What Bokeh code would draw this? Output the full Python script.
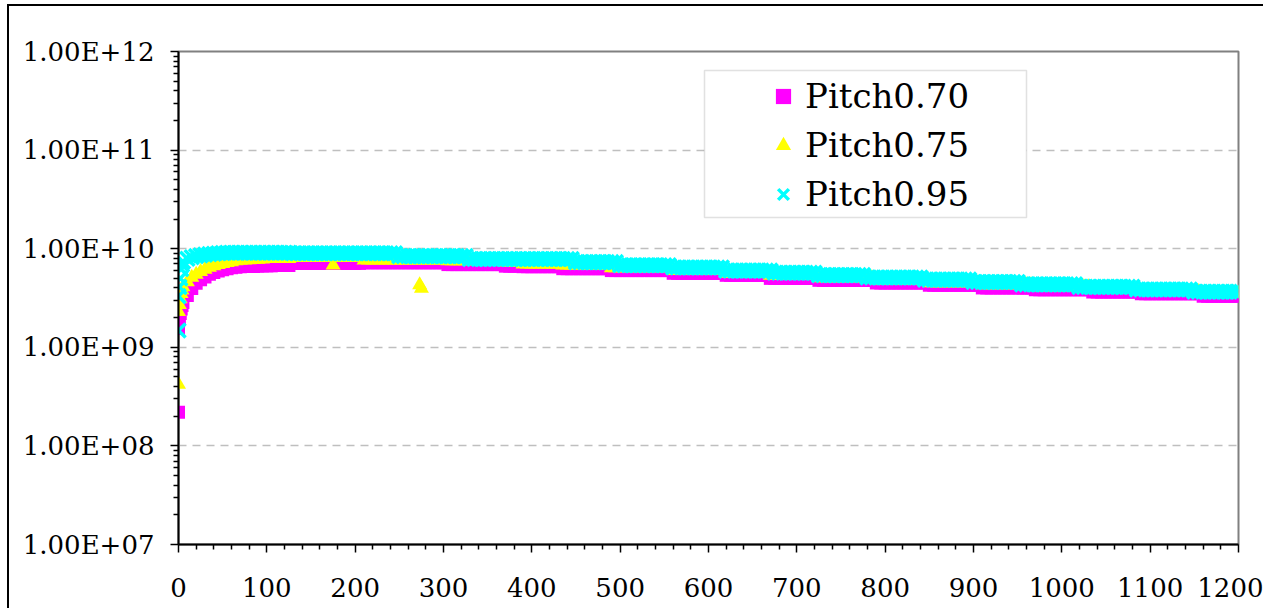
from bokeh.plotting import figure
from bokeh.models import FixedTicker, Legend, LegendItem, BoxAnnotation
from bokeh.embed import file_html
from bokeh.resources import INLINE

# ---------------- data (values in units of 1e9) ----------------
x_grid = list(range(5, 1201, 5))

# Pitch0.70 (magenta squares)
x_070_early = [0, 0, 1, 2, 3, 4]
v_070_early = [0.22, 1.55, 1.9, 2.2, 2.45, 2.65]
v_070 = [
    2.85, 3.35, 3.95, 4.45, 4.85, 5.15, 5.5, 5.75, 5.95, 6.1,
    6.25, 6.4, 6.5, 6.55, 6.6, 6.6, 6.6, 6.65, 6.7, 6.7,
    6.7, 6.75, 6.75, 6.75, 6.75, 7.1, 7.1, 7.1, 7.1, 7.1,
    7.1, 7.1, 7.1, 7.1, 7.1, 7.1, 7.1, 7.1, 7.1, 7.1,
    7.1, 7.2, 7.2, 7.2, 7.2, 7.2, 7.2, 7.2, 7.2, 7.2,
    7.2, 7.2, 7.2, 7.2, 7.2, 7.2, 7.2, 7.2, 7.2, 7.2,
    6.9, 6.9, 6.9, 6.9, 6.9, 6.9, 6.9, 6.9, 6.9, 6.9,
    6.9, 6.9, 6.9, 6.65, 6.65, 6.65, 6.65, 6.57, 6.57, 6.57,
    6.57, 6.57, 6.57, 6.57, 6.57, 6.57, 6.27, 6.27, 6.27, 6.27,
    6.27, 6.27, 6.27, 6.27, 6.27, 6.27, 6.27, 6.0, 6.0, 6.0,
    6.0, 6.0, 6.0, 6.0, 6.0, 6.0, 6.0, 6.0, 6.0, 6.0,
    6.0, 5.63, 5.63, 5.63, 5.63, 5.63, 5.63, 5.63, 5.63, 5.63,
    5.63, 5.63, 5.63, 5.37, 5.37, 5.37, 5.37, 5.37, 5.37, 5.37,
    5.37, 5.37, 5.37, 5.0, 5.0, 5.0, 5.0, 5.0, 5.0, 5.0,
    5.0, 5.0, 5.0, 5.0, 4.78, 4.78, 4.78, 4.78, 4.78, 4.78,
    4.78, 4.78, 4.78, 4.78, 4.78, 4.78, 4.78, 4.49, 4.49, 4.49,
    4.49, 4.49, 4.49, 4.49, 4.49, 4.49, 4.49, 4.49, 4.49, 4.26,
    4.26, 4.26, 4.26, 4.26, 4.26, 4.26, 4.26, 4.26, 4.26, 4.26,
    4.26, 4.0, 4.0, 4.0, 4.0, 4.0, 4.0, 4.0, 4.0, 4.0,
    4.0, 4.0, 4.0, 3.83, 3.83, 3.83, 3.83, 3.83, 3.83, 3.83,
    3.83, 3.83, 3.83, 3.83, 3.83, 3.83, 3.64, 3.64, 3.64, 3.64,
    3.64, 3.64, 3.64, 3.64, 3.64, 3.64, 3.64, 3.5, 3.5, 3.5,
    3.5, 3.5, 3.5, 3.5, 3.5, 3.5, 3.5, 3.5, 3.5, 3.5,
    3.5, 3.3, 3.3, 3.3, 3.3, 3.3, 3.3, 3.3, 3.3, 3.3,
]

# Pitch0.75 (yellow triangles)
x_075_early = [0, 0, 1, 2, 3, 4]
v_075_early = [0.42, 2.3, 2.7, 3.1, 3.5, 3.8]
x_075_extra = [175, 273, 275]
v_075_extra = [6.8, 4.3, 3.95]
v_075 = [
    4.1, 4.6, 5.1, 5.5, 5.85, 6.15, 6.45, 6.7, 6.9, 7.05,
    7.2, 7.35, 7.5, 7.6, 7.65, 7.7, 7.75, 7.8, 7.85, 7.9,
    7.9, 7.9, 7.9, 7.9, 7.9, 8.15, 8.15, 8.15, 8.15, 8.15,
    8.15, 8.15, 8.15, 8.15, 8.15, 8.15, 8.15, 8.15, 8.15, 8.15,
    8.15, 7.65, 7.65, 7.65, 7.65, 7.65, 7.65, 7.65, 7.65, 7.65,
    7.65, 7.65, 7.65, 7.65, 7.65, 7.65, 7.65, 7.65, 7.65, 7.65,
    7.5, 7.5, 7.5, 7.5, 7.5, 7.5, 7.5, 7.5, 7.5, 7.5,
    7.5, 7.5, 7.5, 7.3, 7.3, 7.3, 7.3, 6.95, 6.95, 6.95,
    6.95, 6.95, 6.95, 6.95, 6.95, 6.95, 6.8, 6.8, 6.8, 6.8,
    6.8, 6.8, 6.8, 6.8, 6.8, 6.8, 6.8, 6.4, 6.4, 6.4,
    6.4, 6.4, 6.4, 6.4, 6.4, 6.4, 6.4, 6.4, 6.4, 6.4,
    6.4, 5.97, 5.97, 5.97, 5.97, 5.97, 5.97, 5.97, 5.97, 5.97,
    5.97, 5.97, 5.97, 5.6, 5.6, 5.6, 5.6, 5.6, 5.6, 5.6,
    5.6, 5.6, 5.6, 5.35, 5.35, 5.35, 5.35, 5.35, 5.35, 5.35,
    5.35, 5.35, 5.35, 5.35, 5.06, 5.06, 5.06, 5.06, 5.06, 5.06,
    5.06, 5.06, 5.06, 5.06, 5.06, 5.06, 5.06, 4.8, 4.8, 4.8,
    4.8, 4.8, 4.8, 4.8, 4.8, 4.8, 4.8, 4.8, 4.8, 4.51,
    4.51, 4.51, 4.51, 4.51, 4.51, 4.51, 4.51, 4.51, 4.51, 4.51,
    4.51, 4.3, 4.3, 4.3, 4.3, 4.3, 4.3, 4.3, 4.3, 4.3,
    4.3, 4.3, 4.3, 4.1, 4.1, 4.1, 4.1, 4.1, 4.1, 4.1,
    4.1, 4.1, 4.1, 4.1, 4.1, 4.1, 3.88, 3.88, 3.88, 3.88,
    3.88, 3.88, 3.88, 3.88, 3.88, 3.88, 3.88, 3.67, 3.67, 3.67,
    3.67, 3.67, 3.67, 3.67, 3.67, 3.67, 3.67, 3.67, 3.67, 3.67,
    3.67, 3.51, 3.51, 3.51, 3.51, 3.51, 3.51, 3.51, 3.51, 3.51,
]

# Pitch0.95 (cyan crosses)
x_095_early = [0, 0, 1, 2, 3, 4]
v_095_early = [1.48, 3.3, 4.1, 5.0, 6.2, 6.9]
v_095 = [
    7.4, 7.9, 8.2, 8.4, 8.55, 8.7, 8.8, 8.9, 9.0, 9.05,
    9.1, 9.1, 9.1, 9.1, 9.1, 9.1, 9.1, 9.1, 9.1, 9.1,
    9.1, 9.1, 9.1, 9.1, 9.1, 9.0, 9.0, 9.0, 9.0, 9.0,
    9.0, 9.0, 9.0, 9.0, 9.0, 9.0, 9.0, 9.0, 9.0, 9.0,
    9.0, 9.0, 9.0, 9.0, 9.0, 9.0, 9.0, 9.0, 9.0, 8.4,
    8.4, 8.4, 8.4, 8.4, 8.4, 8.4, 8.4, 8.4, 8.4, 8.4,
    8.4, 8.4, 8.4, 8.4, 8.4, 7.85, 7.85, 7.85, 7.85, 7.85,
    7.85, 7.85, 7.85, 7.85, 7.85, 7.85, 7.85, 7.85, 7.85, 7.85,
    7.85, 7.85, 7.85, 7.85, 7.85, 7.85, 7.85, 7.85, 7.85, 7.3,
    7.3, 7.3, 7.3, 7.3, 7.3, 7.3, 7.3, 7.3, 7.3, 6.8,
    6.8, 6.8, 6.8, 6.8, 6.8, 6.8, 6.8, 6.8, 6.8, 6.8,
    6.8, 6.45, 6.45, 6.45, 6.45, 6.45, 6.45, 6.45, 6.45, 6.45,
    6.45, 6.45, 6.45, 6.0, 6.0, 6.0, 6.0, 6.0, 6.0, 6.0,
    6.0, 6.0, 6.0, 6.0, 5.7, 5.7, 5.7, 5.7, 5.7, 5.7,
    5.7, 5.7, 5.7, 5.7, 5.4, 5.4, 5.4, 5.4, 5.4, 5.4,
    5.4, 5.4, 5.4, 5.4, 5.4, 5.1, 5.1, 5.1, 5.1, 5.1,
    5.1, 5.1, 5.1, 5.1, 5.1, 5.1, 5.1, 5.1, 4.86, 4.86,
    4.86, 4.86, 4.86, 4.86, 4.86, 4.86, 4.86, 4.86, 4.86, 4.6,
    4.6, 4.6, 4.6, 4.6, 4.6, 4.6, 4.6, 4.6, 4.6, 4.6,
    4.35, 4.35, 4.35, 4.35, 4.35, 4.35, 4.35, 4.35, 4.35, 4.35,
    4.35, 4.35, 4.35, 4.1, 4.1, 4.1, 4.1, 4.1, 4.1, 4.1,
    4.1, 4.1, 4.1, 4.1, 4.1, 4.1, 3.86, 3.86, 3.86, 3.86,
    3.86, 3.86, 3.86, 3.86, 3.86, 3.86, 3.86, 3.86, 3.86, 3.66,
    3.66, 3.66, 3.66, 3.66, 3.66, 3.66, 3.66, 3.66, 3.66, 3.66,
]

series_labels = ["Pitch0.70", "Pitch0.75", "Pitch0.95"]
x_major = [0, 100, 200, 300, 400, 500, 600, 700, 800, 900, 1000, 1100, 1200]
y_major = [1e7, 1e8, 1e9, 1e10, 1e11, 1e12]
y_labels = ["1.00E+07", "1.00E+08", "1.00E+09", "1.00E+10", "1.00E+11", "1.00E+12"]

# ---------------- assemble ----------------
E9 = 1e9
x070 = x_070_early + x_grid
y070 = [v * E9 for v in v_070_early + v_070]
x075 = x_075_early + x_grid + x_075_extra
y075 = [v * E9 for v in v_075_early + v_075 + v_075_extra]
x095 = x_095_early + x_grid
y095 = [v * E9 for v in v_095_early + v_095]

FONT = "DejaVu Serif"

p = figure(width=1256, height=604, x_range=(0, 1200), y_range=(1e7, 1e12),
           y_axis_type="log", output_backend="svg", toolbar_location=None,
           min_border_left=169, min_border_right=27, min_border_top=45,
           min_border_bottom=66,
           background_fill_color="white", border_fill_color="white",
           styles={"margin-left": "7px", "margin-top": "4px",
                   "border-left": "2px solid black", "border-top": "2px solid black"})

p.outline_line_color = "#808080"
p.outline_line_width = 2

# grid
p.xgrid.grid_line_color = None
p.ygrid.grid_line_color = "#bfbfbf"
p.ygrid.grid_line_dash = "8 6"
p.ygrid.grid_line_width = 1.5

# axes
minor_x = [v for v in range(0, 1201, 20) if v % 100 != 0]
p.xaxis.ticker = FixedTicker(ticks=x_major, minor_ticks=minor_x)
minor_y = []
for d in y_major[:-1]:
    for k in range(2, 10):
        minor_y.append(k * d)
p.yaxis.ticker = FixedTicker(ticks=y_major, minor_ticks=minor_y)
p.yaxis.major_label_overrides = {t: lab for t, lab in zip(y_major, y_labels)}

for ax in (p.xaxis[0], p.yaxis[0]):
    ax.axis_line_color = "black"
    ax.axis_line_width = 2
    ax.major_tick_line_color = "black"
    ax.minor_tick_line_color = "black"
    ax.major_tick_line_width = 1.5
    ax.minor_tick_line_width = 1.5
    ax.major_tick_out = 8
    ax.major_tick_in = 0
    ax.minor_tick_out = 5
    ax.minor_tick_in = 0
    ax.major_label_text_font = FONT
    ax.major_label_text_font_size = "26px"
    ax.major_label_text_color = "black"
p.xaxis.major_label_standoff = 25
p.yaxis.major_label_standoff = 16

r1 = p.scatter(x070, y070, marker="square", size=13, fill_color="#ff00ff", line_color=None)
r2 = p.scatter(x075, y075, marker="triangle", size=15, fill_color="#ffff00", line_color=None)
r3 = p.scatter(x095, y095, marker="x", size=20, line_color="#00ffff", line_width=3.5)

# legend frame (screen units relative to the plot frame)
legend_box = BoxAnnotation(left=526, right=848, bottom=327, top=474,
                           left_units="screen", right_units="screen",
                           bottom_units="screen", top_units="screen",
                           fill_color="white", fill_alpha=1,
                           line_color="#9a9a9a", line_width=1.5)
p.add_layout(legend_box)

legend = Legend(items=[LegendItem(label=series_labels[0], renderers=[r1]),
                       LegendItem(label=series_labels[1], renderers=[r2]),
                       LegendItem(label=series_labels[2], renderers=[r3])],
                location=(573, 320))
legend.label_text_font = FONT
legend.label_text_font_size = "34px"
legend.label_text_color = "black"
legend.border_line_alpha = 0
legend.background_fill_alpha = 0
legend.padding = 10
legend.spacing = 9
legend.margin = 0
legend.glyph_width = 44
legend.glyph_height = 38
legend.label_height = 38
legend.label_standoff = 0
legend.label_width = 20
p.add_layout(legend, "center")

open("out.html", "w").write(file_html(p, INLINE))
